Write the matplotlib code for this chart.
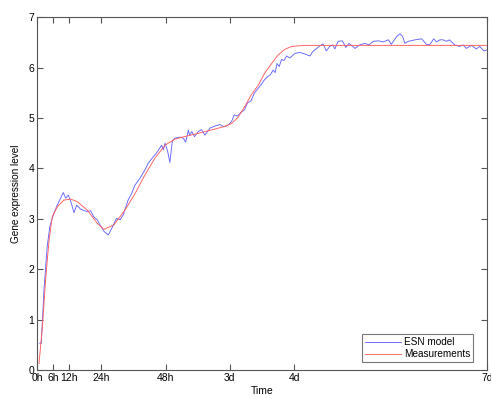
import matplotlib

matplotlib.use("Agg")
import matplotlib.pyplot as plt  # noqa: E402

# time in hours
tick_hours = [0, 6, 12, 24, 48, 72, 96, 168]
tick_labels = ["0h", "6h", "12h", "24h", "48h", "3d", "4d", "7d"]

esn_hours = [
    1.0, 1.6, 2.6, 3.8, 4.8, 6.1, 7.3, 8.8, 9.8, 10.7, 11.7, 12.8, 13.8, 14.8,
    16.3, 17.8, 18.8, 20.0, 21.3, 22.5, 23.5, 25.0, 26.6, 27.9, 29.7, 31.0,
    32.2, 34.0, 35.3, 36.6, 38.4, 40.3, 41.5, 43.4, 44.7, 46.5, 47.2, 47.8,
    48.8, 49.6, 50.5, 51.5, 53.4, 54.6, 55.5, 56.5, 57.0, 57.8, 58.8, 60.2,
    61.4, 62.7, 64.6, 66.4, 68.3, 69.5, 70.8, 72.0, 72.8, 73.6, 74.9, 76.1,
    77.4, 78.6, 79.9, 81.1, 82.6, 83.8, 84.8, 86.0, 87.0, 88.2, 88.9, 89.6,
    90.4, 91.3, 92.2, 93.2, 94.4, 96.3, 98.0, 100.0, 101.9, 103.0, 104.4,
    105.6, 106.8, 108.0, 109.3, 110.3, 111.2, 112.4, 114.0, 115.3, 116.5,
    118.7, 120.5, 122.4, 124.0, 125.5, 127.4, 129.3, 131.2, 132.3, 134.3,
    135.5, 136.5, 137.3, 138.6, 141.1, 143.6, 145.4, 146.6, 148.1, 149.1,
    150.4, 151.6, 152.8, 154.0, 155.9, 157.8, 159.0, 160.3, 162.2, 164.0,
    165.3, 166.8, 168.0,
]
esn_level = [
    0.53, 0.53, 1.59, 2.45, 2.85, 3.08, 3.24, 3.41, 3.52, 3.41, 3.47, 3.31,
    3.12, 3.27, 3.19, 3.16, 3.14, 3.16, 3.03, 2.98, 2.88, 2.75, 2.68, 2.81,
    3.01, 2.98, 3.08, 3.37, 3.50, 3.67, 3.80, 3.97, 4.10, 4.23, 4.31, 4.46,
    4.37, 4.50, 4.33, 4.12, 4.54, 4.60, 4.62, 4.60, 4.52, 4.76, 4.66, 4.73,
    4.63, 4.73, 4.77, 4.66, 4.80, 4.84, 4.87, 4.83, 4.84, 4.89, 4.95, 5.06,
    5.04, 5.11, 5.16, 5.30, 5.34, 5.49, 5.59, 5.67, 5.75, 5.82, 5.85, 5.95,
    5.90, 6.08, 6.02, 6.16, 6.14, 6.23, 6.19, 6.28, 6.30, 6.27, 6.23, 6.32,
    6.38, 6.43, 6.47, 6.33, 6.42, 6.45, 6.37, 6.52, 6.53, 6.40, 6.48, 6.38,
    6.45, 6.48, 6.45, 6.52, 6.53, 6.51, 6.55, 6.46, 6.62, 6.67, 6.62, 6.48,
    6.52, 6.55, 6.57, 6.46, 6.45, 6.57, 6.51, 6.55, 6.55, 6.52, 6.55, 6.45,
    6.42, 6.45, 6.38, 6.44, 6.37, 6.42, 6.33, 6.35,
]

meas_hours = [
    0.75, 2.0, 3.2, 4.5, 5.7, 7.6, 10.0, 12.6, 15.0, 18.8, 22.5, 25.0, 28.7,
    32.8, 36.6, 40.3, 44.0, 47.8, 51.5, 55.0, 59.0, 66.4, 70.0, 72.6, 75.0,
    77.6, 80.0, 82.6, 85.0, 87.6, 90.0, 92.5, 95.0, 100.0, 168.0,
]
meas_level = [
    0.13, 0.86, 1.79, 2.58, 3.04, 3.24, 3.37, 3.39, 3.34, 3.17, 2.91, 2.79,
    2.88, 3.17, 3.50, 3.87, 4.20, 4.46, 4.58, 4.63, 4.68, 4.78, 4.83, 4.89,
    5.01, 5.23, 5.46, 5.65, 5.89, 6.08, 6.25, 6.36, 6.42, 6.44, 6.44,
]

plt.rcParams["font.family"] = ["Liberation Sans", "DejaVu Sans"]
plt.rcParams["font.size"] = 7.5

fig = plt.figure(figsize=(4.91, 3.99), dpi=100)
ax = fig.add_axes([0.0754, 0.0727, 0.9165, 0.8843])

ax.plot(esn_hours, esn_level, color="#6464ff", lw=0.65, label="ESN model")
ax.plot(meas_hours, meas_level, color="#ff5c5c", lw=0.65, label="Measurements")

ax.set_xlim(0, 168)
ax.set_ylim(0, 7)
ax.set_xticks(tick_hours)
ax.set_xticklabels(tick_labels)
ax.set_yticks(range(8))
ax.set_xlabel("Time", labelpad=2)
ax.set_ylabel("Gene expression level", labelpad=5, fontsize=7.2)

for s in ax.spines.values():
    s.set_color("#555555")
    s.set_linewidth(0.8)
ax.tick_params(direction="in", length=4, width=0.8, color="#555555",
               top=True, right=True, pad=2)

leg = ax.legend(loc="lower right", bbox_to_anchor=(0.969, 0.022),
                fontsize=7.2, fancybox=False, edgecolor="#555555",
                handlelength=3.6, borderaxespad=0.0, borderpad=0.3,
                labelspacing=0.2, handletextpad=0.3)
leg.get_frame().set_linewidth(0.8)

fig.savefig("out.png", dpi=100)
